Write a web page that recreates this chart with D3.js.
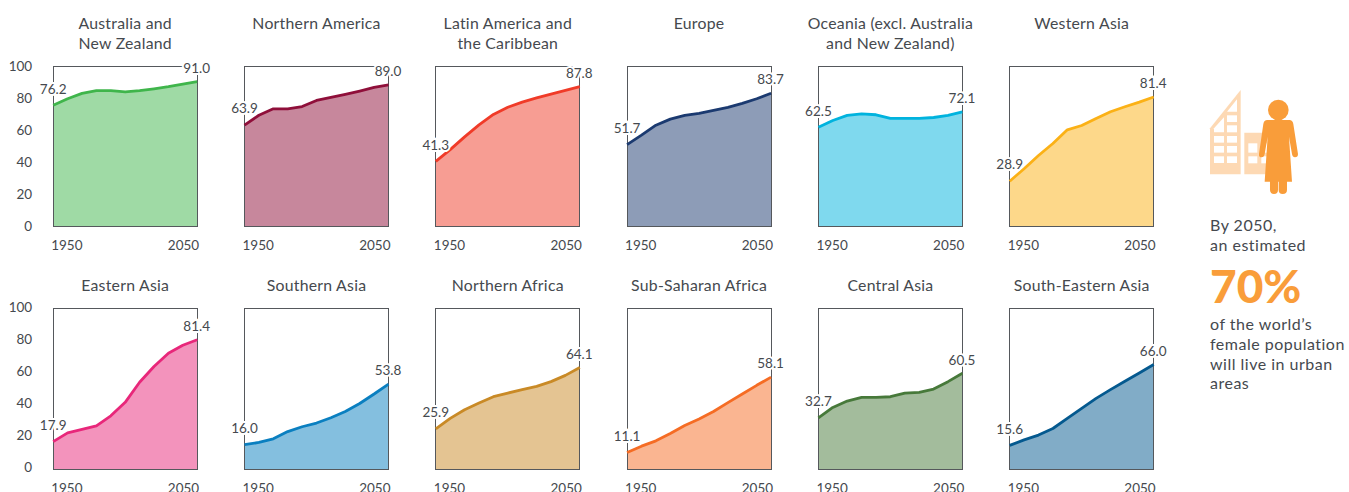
<!DOCTYPE html>
<html>
<head>
<meta charset="utf-8">
<script src="https://cdn.jsdelivr.net/npm/d3@7"></script>
<style>
  html, body { margin: 0; padding: 0; background: #fff; overflow: hidden; }
  svg { display: block; font-family: Lato, sans-serif; }
  text { fill: #45494e; }
</style>
</head>
<body>
<svg id="chart" width="1349" height="492"></svg>
<script>
const years = [1950, 1960, 1970, 1980, 1990, 2000, 2010, 2020, 2030, 2040, 2050];
const yTicks = [0, 20, 40, 60, 80, 100];
const xTicks = [1950, 2050];

const titles = [
  ["Australia and", "New Zealand"],
  ["Northern America"],
  ["Latin America and", "the Caribbean"],
  ["Europe"],
  ["Oceania (excl. Australia", "and New Zealand)"],
  ["Western Asia"],
  ["Eastern Asia"],
  ["Southern Asia"],
  ["Northern Africa"],
  ["Sub-Saharan Africa"],
  ["Central Asia"],
  ["South-Eastern Asia"]
];

const colors = [
  "#3fb54b", "#8f0f3a", "#f03b28", "#1b3a70", "#00b3de", "#fbb116",
  "#e8277a", "#0a7fc0", "#c98a26", "#f56c24", "#47793a", "#04598f"
];

// percent urban (first and last are the printed labels)
const australia = [76.2, 80.3, 83.6, 85.3, 85.3, 84.5, 85.3, 86.5, 87.8, 89.4, 91.0];
const northernAmerica = [63.9, 70.0, 74.0, 74.0, 75.4, 79.2, 81.1, 83.0, 85.1, 87.4, 89.0];
const latinAmerica = [41.3, 48.6, 56.5, 64.0, 70.5, 75.0, 78.2, 80.8, 83.2, 85.5, 87.8];
const europe = [51.7, 57.6, 63.8, 67.6, 69.9, 71.1, 73.0, 74.9, 77.4, 80.3, 83.7];
const oceania = [62.5, 66.7, 69.9, 70.9, 70.3, 68.0, 68.0, 68.0, 68.6, 69.9, 72.1];
const westernAsia = [28.9, 36.7, 44.9, 52.4, 60.9, 63.6, 68.0, 72.2, 75.3, 78.2, 81.4];
const easternAsia = [17.9, 23.4, 25.5, 27.8, 34.0, 42.4, 54.9, 64.7, 73.0, 78.0, 81.4];
const southernAsia = [16.0, 17.4, 19.7, 24.2, 27.2, 29.5, 32.8, 36.7, 41.7, 47.6, 53.8];
const northernAfrica = [25.9, 32.4, 37.8, 42.0, 45.9, 48.2, 50.3, 52.4, 55.3, 59.2, 64.1];
const subSaharan = [11.1, 15.1, 18.4, 23.0, 28.0, 32.0, 36.7, 42.2, 47.6, 53.0, 58.1];
const centralAsia = [32.7, 39.2, 43.2, 45.5, 45.5, 45.9, 48.2, 48.6, 50.7, 55.3, 60.5];
const southEastAsia = [15.6, 19.0, 22.0, 26.1, 32.4, 38.6, 44.9, 50.3, 55.5, 60.7, 66.0];

const series = [
  australia, northernAmerica, latinAmerica, europe, oceania, westernAsia,
  easternAsia, southernAsia, northernAfrica, subSaharan, centralAsia, southEastAsia
];

const calloutTop = ["By 2050,", "an estimated"];
const calloutNumber = "70%";
const calloutBottom = ["of the world\u2019s", "female population", "will live in urban", "areas"];

const panelW = 144;
const panelH = 160.5;
const panelLeft = 53.2;
const panelStep = 191.3;
const rowTop = [66, 308.8];
const lineNudge = 1.1; // the lines in the source sit about a pixel under their scale
const orange = "#f99d3a";

const svg = d3.select("#chart");
const fmt = d3.format(".1f");

const x = d3.scaleLinear().domain([1950, 2050]).range([0, panelW]);
const y = d3.scaleLinear().domain([0, 100]).range([panelH, 0]);

const area = d3.area()
  .x((d, i) => x(years[i]))
  .y0(panelH)
  .y1((d) => y(d) + lineNudge);

const line = d3.line()
  .x((d, i) => x(years[i]))
  .y((d) => y(d) + lineNudge);

const panels = svg.selectAll("g.panel")
  .data(series)
  .join("g")
  .attr("class", "panel")
  .attr("transform", (d, i) => `translate(${panelLeft + (i % 6) * panelStep},${rowTop[Math.floor(i / 6)]})`);

panels.append("path")
  .attr("d", (d) => area(d))
  .attr("fill", (d, i) => colors[i])
  .attr("fill-opacity", 0.5);

// frame
panels.append("rect")
  .attr("width", panelW)
  .attr("height", panelH)
  .attr("fill", "none")
  .attr("stroke", "#55585c")
  .attr("stroke-width", 1)
  .attr("shape-rendering", "crispEdges");

panels.append("path")
  .attr("d", (d) => line(d))
  .attr("fill", "none")
  .attr("stroke", (d, i) => colors[i])
  .attr("stroke-width", 2.8)
  .attr("stroke-linejoin", "round");

// x axis
panels.append("g")
  .attr("transform", `translate(0,${panelH})`)
  .call(d3.axisBottom(x).tickValues(xTicks).tickSize(0).tickPadding(14).tickFormat(d3.format("d")))
  .call((g) => g.select(".domain").remove())
  .call((g) => g.selectAll("text")
    .attr("font-size", 13.5)
    .attr("font-family", "Lato, sans-serif")
    .attr("text-anchor", (d) => (d === 1950 ? "start" : "end"))
    .attr("dx", (d) => (d === 1950 ? -2.5 : 1.5)));

// y axis on the first panel of each row only
panels.filter((d, i) => i % 6 === 0).append("g")
  .attr("transform", (d, i) => `translate(-21,${i === 0 ? 0 : -2})`)
  .call(d3.axisLeft(y).tickValues(yTicks).tickSize(0).tickPadding(0))
  .call((g) => g.select(".domain").remove())
  .call((g) => g.selectAll("text")
    .attr("font-size", 13.5)
    .attr("font-family", "Lato, sans-serif"));

// first and last values, white halo cuts the frame like in the source
panels.append("text")
  .attr("x", x(1950))
  .attr("y", (d) => y(d[0]) + lineNudge - 16.5)
  .attr("dy", "0.35em")
  .attr("text-anchor", "middle")
  .attr("font-size", 13.5)
  .attr("paint-order", "stroke")
  .attr("stroke", "#fff")
  .attr("stroke-width", 4)
  .text((d) => fmt(d[0]));

panels.append("text")
  .attr("x", x(2050) - 0.5)
  .attr("y", (d) => y(d[d.length - 1]) + lineNudge - 13.5)
  .attr("dy", "0.35em")
  .attr("text-anchor", "middle")
  .attr("font-size", 13.5)
  .attr("paint-order", "stroke")
  .attr("stroke", "#fff")
  .attr("stroke-width", 4)
  .text((d) => fmt(d[d.length - 1]));

// titles
panels.each(function (d, i) {
  const lines = titles[i];
  d3.select(this).selectAll("text.title")
    .data(lines)
    .join("text")
    .attr("class", "title")
    .attr("x", panelW / 2)
    .attr("y", (t, k) => (i < 6 ? -42.5 : -23.5) + k * 20)
    .attr("dy", "0.35em")
    .attr("text-anchor", "middle")
    .attr("font-size", 15.8)
    .attr("letter-spacing", 0.25)
    .text((t) => t);
});

// callout: icon is drawn in zoom-crop units (3x) then scaled down
const icon = svg.append("g").attr("transform", "translate(1180,80) scale(0.3333)");
const pale = "#fdd9b4";
icon.append("path").attr("fill", pale)
  .attr("d", "M90,145L182,30V283H90Z");
icon.append("path").attr("fill", pale)
  .attr("d", "M193,158H262V283H193Z");
const windows = [
  [102, 168, 30, 20], [141, 168, 30, 20],
  [102, 198, 30, 20], [141, 198, 30, 20],
  [102, 229, 30, 20], [141, 229, 30, 20],
  [141, 136, 30, 21], [141, 106, 30, 20],
  [205, 190, 27, 28], [205, 229, 27, 21], [244, 190, 20, 28], [244, 229, 20, 21]
];
icon.selectAll("rect.win").data(windows).join("rect")
  .attr("class", "win").attr("fill", "#fff")
  .attr("x", (d) => d[0]).attr("y", (d) => d[1])
  .attr("width", (d) => d[2]).attr("height", (d) => d[3]);
icon.append("path").attr("fill", "#fff").attr("d", "M102,157V145L132,112V157Z");
icon.append("path").attr("fill", "#fff").attr("d", "M141,95L171,58V95Z");
icon.append("circle").attr("fill", orange).attr("cx", 295).attr("cy", 90).attr("r", 31);
icon.append("path").attr("fill", orange)
  .attr("d", "M262,120H328Q338,120 340,132L354,222Q354,232 345,232Q338,232 336,222L327,170L336,305H321V330Q321,342 308,342Q296,342 296,330V305H294V330Q294,342 282,342Q270,342 270,330V305H254L263,170L254,222Q252,232 245,232Q236,232 237,222L250,132Q252,120 262,120Z");

const callout = svg.append("g").attr("transform", "translate(1210,0)");
callout.selectAll("text.top").data(calloutTop).join("text")
  .attr("class", "top")
  .attr("y", (d, i) => 225.5 + i * 20)
  .attr("dy", "0.35em")
  .attr("font-size", 16)
  .attr("letter-spacing", 0.5)
  .text((d) => d);
callout.append("text")
  .attr("y", 303)
  .attr("font-size", 46)
  .attr("font-weight", 900)
  .style("fill", orange)
  .text(calloutNumber);
callout.selectAll("text.bottom").data(calloutBottom).join("text")
  .attr("class", "bottom")
  .attr("y", (d, i) => 324.5 + i * 19.7)
  .attr("dy", "0.35em")
  .attr("font-size", 16)
  .attr("letter-spacing", 0.5)
  .text((d) => d);
</script>
</body>
</html>
